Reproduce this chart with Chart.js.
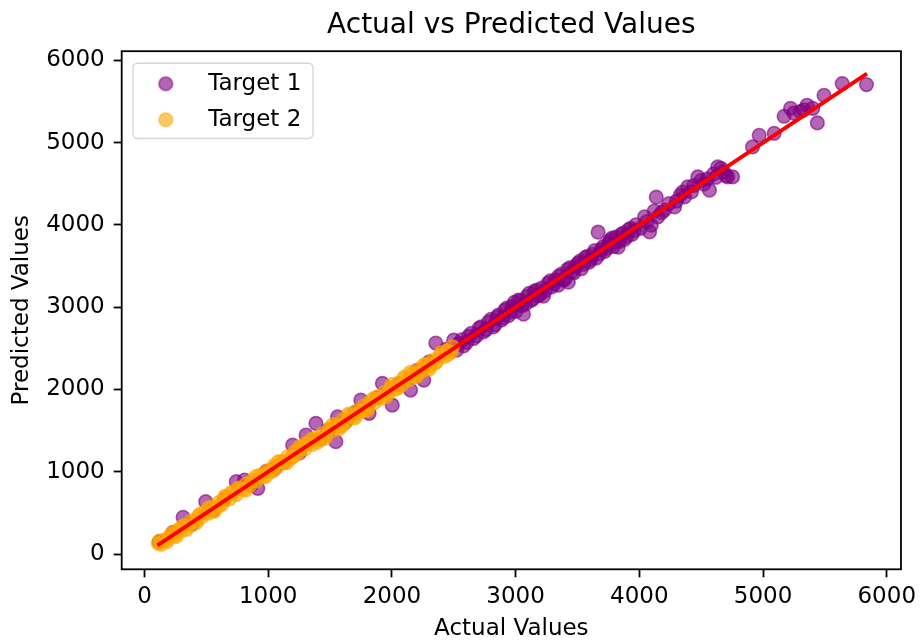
<!DOCTYPE html>
<html>
<head>
<meta charset="utf-8">
<script src="https://cdn.jsdelivr.net/npm/chart.js@4/dist/chart.umd.min.js"></script>
<style>
  html, body { margin: 0; padding: 0; background: #ffffff; }
  canvas { display: block; }
</style>
</head>
<body>
<canvas id="c" width="922" height="644"></canvas>
<script>
// ---------------- data ----------------
const chartTitle = 'Actual vs Predicted Values';
const xAxisLabel = 'Actual Values';
const yAxisLabel = 'Predicted Values';
const seriesNames = ['Target 1', 'Target 2'];

const target1Actual = [120,230,312,385,495,562,645,742,809,862,916,985,1052,1124,1198,1253,1306,1386,1423,1482,1547,1561,1624,1703,1749,1816,1884,1923,2003,2054,2151,2204,2258,2302,2355,2440,2500,2523,2566,2605,2643,2684,2705,2722,2763,2801,2833,2862,2884,2912,2943,2971,3002,3023,3051,3063,3092,3121,3152,3181,3212,3225,3262,3291,3322,3345,3372,3401,3426,3442,3471,3502,3531,3562,3592,3621,3652,3667,3692,3721,3752,3764,3791,3812,3829,3852,3881,3912,3941,3972,4043,4083,4097,4137,4150,4203,4285,4331,4366,4392,4421,4473,4522,4567,4601,4634,4682,4714,4754,4915,4969,5090,5170,5222,5301,5356,5402,5439,5493,5640,5836,
  2540,2580,2620,2660,2740,2780,2820,2850,2900,2930,2960,2990,3040,3080,3110,3140,3170,3200,3240,3280,3310,3350,3390,3420,3460,3490,3520,3550,3580,3610,3640,3680,3710,3740,3780,3800,3840,3870,3900,3930,3960,4010,4060,4120,4180,4240,4300,4350,4440,4500,4550,4620,4660,4700,5250,5330];
const target1Predicted = [150,262,446,362,636,540,664,879,899,838,798,1004,1038,1113,1324,1228,1446,1588,1398,1503,1365,1668,1602,1722,1871,1710,1902,2074,1810,2062,1993,2232,2114,2335,2564,2490,2600,2478,2604,2572,2684,2651,2745,2762,2728,2853,2788,2905,2842,2964,2898,3012,2951,3086,3018,2916,3131,3079,3193,3138,3233,3135,3292,3248,3334,3269,3403,3352,3305,3483,3418,3534,3468,3603,3547,3644,3598,3913,3703,3678,3784,3815,3738,3853,3730,3884,3826,3942,3887,4003,4099,3916,3998,4338,4099,4182,4220,4362,4342,4463,4402,4585,4498,4423,4622,4706,4648,4585,4585,4949,5091,5115,5322,5419,5378,5456,5418,5241,5577,5719,5707,
  2560,2530,2650,2620,2700,2820,2760,2880,2870,2990,2940,3060,3080,3040,3170,3100,3210,3160,3200,3320,3280,3380,3330,3460,3440,3500,3560,3520,3620,3580,3690,3650,3740,3720,3840,3790,3800,3900,3860,3960,3930,3960,4040,4170,4150,4260,4290,4400,4480,4540,4560,4580,4690,4600,5360,5400];

const target2Actual = [111,138,165,192,214,246,271,298,322,356,381,409,437,462,489,518,547,571,603,629,655,688,712,741,768,796,823,852,879,906,934,963,991,1018,1047,1073,1102,1129,1158,1184,1213,1241,1268,1297,1324,1352,1381,1408,1436,1465,1493,1521,1548,1577,1605,1632,1661,1689,1716,1745,1772,1801,1828,1856,1884,1912,1941,1968,1996,2024,2053,2081,2108,2137,2164,2193,2221,2248,2277,2305,2333,2361,2389,2417,2446,2478,560,650,1460,1570,1700,2150,2300,1350,980,450,255,1800,700,1150,2000,1250,
  125,180,230,300,340,420,520,600,760,820,900,1040,1080,1200,1300,1400,1520,1600,1650,1760,1850,1950,2050,2100,2200,2260,2350,2400,2450,2490];
const target2Predicted = [130,118,172,185,238,231,288,282,345,338,402,396,461,447,515,497,571,552,628,606,688,671,739,722,790,779,851,833,902,888,958,941,1012,1001,1071,1058,1122,1112,1184,1166,1236,1224,1295,1278,1349,1331,1407,1392,1462,1441,1519,1502,1572,1556,1631,1611,1688,1668,1741,1724,1799,1778,1853,1837,1911,1892,1966,1949,2022,2003,2079,2060,2134,2116,2191,2172,2246,2229,2302,2284,2358,2340,2414,2396,2470,2452,515,700,1405,1520,1655,2210,2245,1395,945,485,210,1750,745,1110,2060,1300,
  160,150,260,330,300,380,560,580,800,780,940,1010,1120,1180,1340,1360,1570,1560,1700,1740,1890,1910,2020,2150,2160,2300,2320,2450,2420,2520];

// ideal line y = x from min to max of actual values
const idealLineEnds = [105, 5840];

const xTickValues = [0, 1000, 2000, 3000, 4000, 5000, 6000];
const yTickValues = [0, 1000, 2000, 3000, 4000, 5000, 6000];

// ---------------- styling ----------------
const FONT = 'DejaVu Sans';
const purpleFill = 'rgba(128,0,128,0.6)';
const orangeFill = 'rgba(255,165,0,0.6)';

function makeMarker(color) {
  const c = document.createElement('canvas');
  c.width = 20; c.height = 20;
  const g = c.getContext('2d');
  g.beginPath();
  g.arc(10, 10, 6.8, 0, Math.PI * 2);
  g.fillStyle = color; g.fill();
  g.lineWidth = 1.6; g.strokeStyle = color; g.stroke();
  return c;
}
const legendMarkers = [makeMarker(purpleFill), makeMarker(orangeFill)];

const toPoints = (xs, ys) => xs.map((x, i) => ({ x: x, y: ys[i] }));

const framePlugin = {
  id: 'frame',
  afterLayout(chart) {
    const lg = chart.legend;
    if (lg) {
      const h = lg.bottom - lg.top;
      lg.top = chart.chartArea.top + 8;
      lg.bottom = lg.top + h;
    }
  },
  beforeDraw(chart) {
    const a = chart.chartArea;
    const ctx = chart.ctx;
    ctx.save();
    ctx.fillStyle = '#ffffff';
    ctx.fillRect(0, 0, chart.width, chart.height);
    // legend frame
    const x = a.left + 11.3, y = a.top + 12, w = 180, h = 75.3, r = 4.5;
    ctx.beginPath();
    ctx.roundRect(x, y, w, h, r);
    ctx.fillStyle = 'rgba(255,255,255,0.8)';
    ctx.fill();
    ctx.lineWidth = 1.4;
    ctx.strokeStyle = '#d6d6d6';
    ctx.stroke();
    ctx.restore();
  },
  afterDatasetsDraw(chart) {
    const a = chart.chartArea;
    const ctx = chart.ctx;
    ctx.save();
    ctx.lineWidth = 1.8;
    ctx.strokeStyle = '#000000';
    ctx.strokeRect(a.left, a.top, a.right - a.left, a.bottom - a.top);
    ctx.restore();
  }
};

new Chart(document.getElementById('c'), {
  type: 'scatter',
  data: {
    datasets: [
      {
        label: seriesNames[0],
        data: toPoints(target1Actual, target1Predicted),
        backgroundColor: purpleFill,
        borderColor: purpleFill,
        borderWidth: 1.6,
        pointRadius: 6.8,
        pointHoverRadius: 6.8,
        order: 2
      },
      {
        label: seriesNames[1],
        data: toPoints(target2Actual, target2Predicted),
        backgroundColor: orangeFill,
        borderColor: orangeFill,
        borderWidth: 1.6,
        pointRadius: 6.8,
        pointHoverRadius: 6.8,
        order: 1
      },
      {
        label: 'ideal',
        data: toPoints(idealLineEnds, idealLineEnds),
        showLine: true,
        borderColor: '#ff0000',
        borderWidth: 4,
        pointRadius: 0,
        fill: false,
        order: 0
      }
    ]
  },
  options: {
    responsive: false,
    animation: false,
    devicePixelRatio: 1,
    events: [],
    layout: { padding: { left: 0, right: 18, top: 0, bottom: 0 } },
    scales: {
      x: {
        type: 'linear',
        position: 'bottom',
        min: -184,
        max: 6115,
        afterBuildTicks: (s) => { s.ticks = xTickValues.map(v => ({ value: v })); },
        afterFit: (s) => { s.height = 74.7; },
        ticks: {
          callback: (v) => String(v),
          color: '#000000',
          font: { family: FONT, size: 23 },
          padding: 5.6,
          maxRotation: 0,
          autoSkip: false
        },
        grid: {
          display: true,
          drawOnChartArea: false,
          drawTicks: true,
          tickLength: 8,
          tickColor: '#000000',
          tickWidth: 1.8
        },
        border: { display: false },
        title: {
          display: true,
          text: xAxisLabel,
          color: '#000000',
          font: { family: FONT, size: 23 },
          padding: { top: 0, bottom: 1 }
        }
      },
      y: {
        type: 'linear',
        position: 'left',
        min: -186,
        max: 6113,
        afterBuildTicks: (s) => { s.ticks = yTickValues.map(v => ({ value: v })); },
        afterFit: (s) => { s.width = 121.7; },
        ticks: {
          callback: (v) => String(v),
          color: '#000000',
          font: { family: FONT, size: 23 },
          padding: 9,
          autoSkip: false
        },
        grid: {
          display: true,
          drawOnChartArea: false,
          drawTicks: true,
          tickLength: 8,
          tickColor: '#000000',
          tickWidth: 1.8
        },
        border: { display: false },
        title: {
          display: true,
          text: yAxisLabel,
          color: '#000000',
          font: { family: FONT, size: 23 },
          padding: { top: 8.7, bottom: 0 }
        }
      }
    },
    plugins: {
      title: {
        display: true,
        text: chartTitle,
        fullSize: false,
        color: '#000000',
        font: { family: FONT, size: 28, weight: 'normal' },
        padding: { top: 8.5, bottom: 9.1 }
      },
      legend: {
        display: true,
        position: 'chartArea',
        align: 'start',
        labels: {
          usePointStyle: true,
          pointStyleWidth: 62,
          padding: 13,
          color: '#000000',
          font: { family: FONT, size: 23 },
          filter: (item) => item.datasetIndex < 2,
          sort: (a, b) => a.datasetIndex - b.datasetIndex,
          generateLabels: (chart) => {
            const items = Chart.defaults.plugins.legend.labels.generateLabels(chart);
            items.forEach((it) => {
              if (it.datasetIndex < 2) it.pointStyle = legendMarkers[it.datasetIndex];
            });
            return items;
          }
        }
      },
      tooltip: { enabled: false }
    }
  },
  plugins: [framePlugin]
});
</script>
</body>
</html>
